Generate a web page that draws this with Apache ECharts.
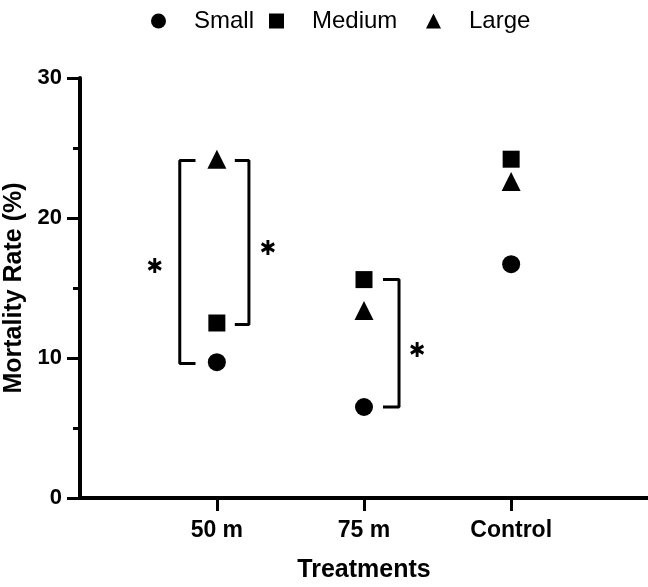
<!DOCTYPE html>
<html>
<head>
<meta charset="utf-8">
<script src="https://cdn.jsdelivr.net/npm/echarts@6/dist/echarts.min.js"></script>
<style>
  html, body { margin: 0; padding: 0; background: #fff; }
  #main { width: 648px; height: 587px; }
</style>
</head>
<body>
<div id="main"></div>
<script>
// categories sit at x = 1, 2, 3
const treatments = ['50 m', '75 m', 'Control'];
const small = [9.7, 6.5, 16.7];
const medium = [12.5, 15.6, 24.2];
const large = [24.2, 13.4, 22.6];
const yTicks = [0, 10, 20, 30];

// significance brackets: [bar x, arm end x, top y, bottom y]
const brackets = [
  [0.748, 0.855, 24.1, 9.6],
  [1.218, 1.122, 24.1, 12.4],
  [2.238, 2.129, 15.6, 6.5]
];
// asterisks [x, y]
const stars = [[0.578, 16.6], [1.347, 17.9], [2.361, 10.6]];

const font = 'Liberation Sans, Arial, sans-serif';
// six-armed asterisk
const starPath = 'path://M-0.2 -1L0.2 -1L0.2 1L-0.2 1Z' +
  'M0.766 -0.673L0.966 -0.327L-0.766 0.673L-0.966 0.327Z' +
  'M-0.966 -0.327L-0.766 -0.673L0.966 0.327L0.766 0.673Z';

const bracketSeries = brackets.map(b => ({
  type: 'line',
  silent: true,
  symbol: 'none',
  lineStyle: { color: '#000', width: 3 },
  data: [[b[1], b[2]], [b[0], b[2]], [b[0], b[3]], [b[1], b[3]]],
  z: 1
}));

const pointSeries = [
  { name: 'Small', symbol: 'circle', symbolSize: 18, vals: small },
  { name: 'Medium', symbol: 'rect', symbolSize: 17, vals: medium },
  { name: 'Large', symbol: 'triangle', symbolSize: 19, vals: large }
].map(s => ({
  name: s.name,
  type: 'scatter',
  symbol: s.symbol,
  symbolSize: s.symbolSize,
  itemStyle: { color: '#000', opacity: 1 },
  data: s.vals.map((v, i) => [i + 1, v]),
  z: 3
}));

// one legend per item so each can be placed like the original
const legendLeft = [146, 264, 421];
const legends = ['Small', 'Medium', 'Large'].map((name, i) => ({
  data: [name],
  top: 4,
  left: legendLeft[i],
  itemWidth: 15,
  itemHeight: 15,
  textStyle: { fontSize: 24, color: '#000', padding: [0, 0, 0, 23] },
  itemStyle: { color: '#000', opacity: 1 }
}));

const option = {
  animation: false,
  textStyle: { fontFamily: font },
  legend: legends,
  grid: { left: 80, right: 0, top: 78, bottom: 89, containLabel: false, outerBoundsMode: 'none' },
  xAxis: {
    type: 'value',
    min: 0.07,
    max: 3.93,
    name: 'Treatments',
    nameLocation: 'middle',
    nameGap: 60,
    nameTextStyle: { fontSize: 25, fontWeight: 'bold', color: '#000' },
    axisLine: { lineStyle: { color: '#000', width: 4 } },
    axisTick: { customValues: [1, 2, 3], length: 13, lineStyle: { color: '#000', width: 3 } },
    axisLabel: {
      customValues: [1, 2, 3],
      formatter: v => treatments[Math.round(v) - 1],
      fontSize: 23, fontWeight: 'bold', color: '#000', margin: 21
    },
    splitLine: { show: false }
  },
  yAxis: {
    type: 'value',
    min: yTicks[0],
    max: yTicks[yTicks.length - 1],
    interval: 10,
    name: 'Mortality Rate (%)',
    nameLocation: 'middle',
    nameGap: 53,
    nameMoveOverlap: false,
    nameTextStyle: { fontSize: 25, fontWeight: 'bold', color: '#000' },
    axisLine: { show: true, lineStyle: { color: '#000', width: 4 } },
    axisTick: { show: true, length: 13, lineStyle: { color: '#000', width: 3 } },
    minorTick: { show: true, splitNumber: 2, length: 7, lineStyle: { color: '#000', width: 3 } },
    axisLabel: { fontSize: 22, fontWeight: 'bold', color: '#000', margin: 18 },
    splitLine: { show: false }
  },
  series: [
    ...bracketSeries,
    {
      type: 'scatter',
      silent: true,
      symbol: starPath,
      symbolSize: [14, 15],
      itemStyle: { color: '#000', opacity: 1 },
      data: stars,
      z: 2
    },
    ...pointSeries
  ]
};

const myChart = echarts.init(document.getElementById('main'));
myChart.setOption(option);
</script>
</body>
</html>
